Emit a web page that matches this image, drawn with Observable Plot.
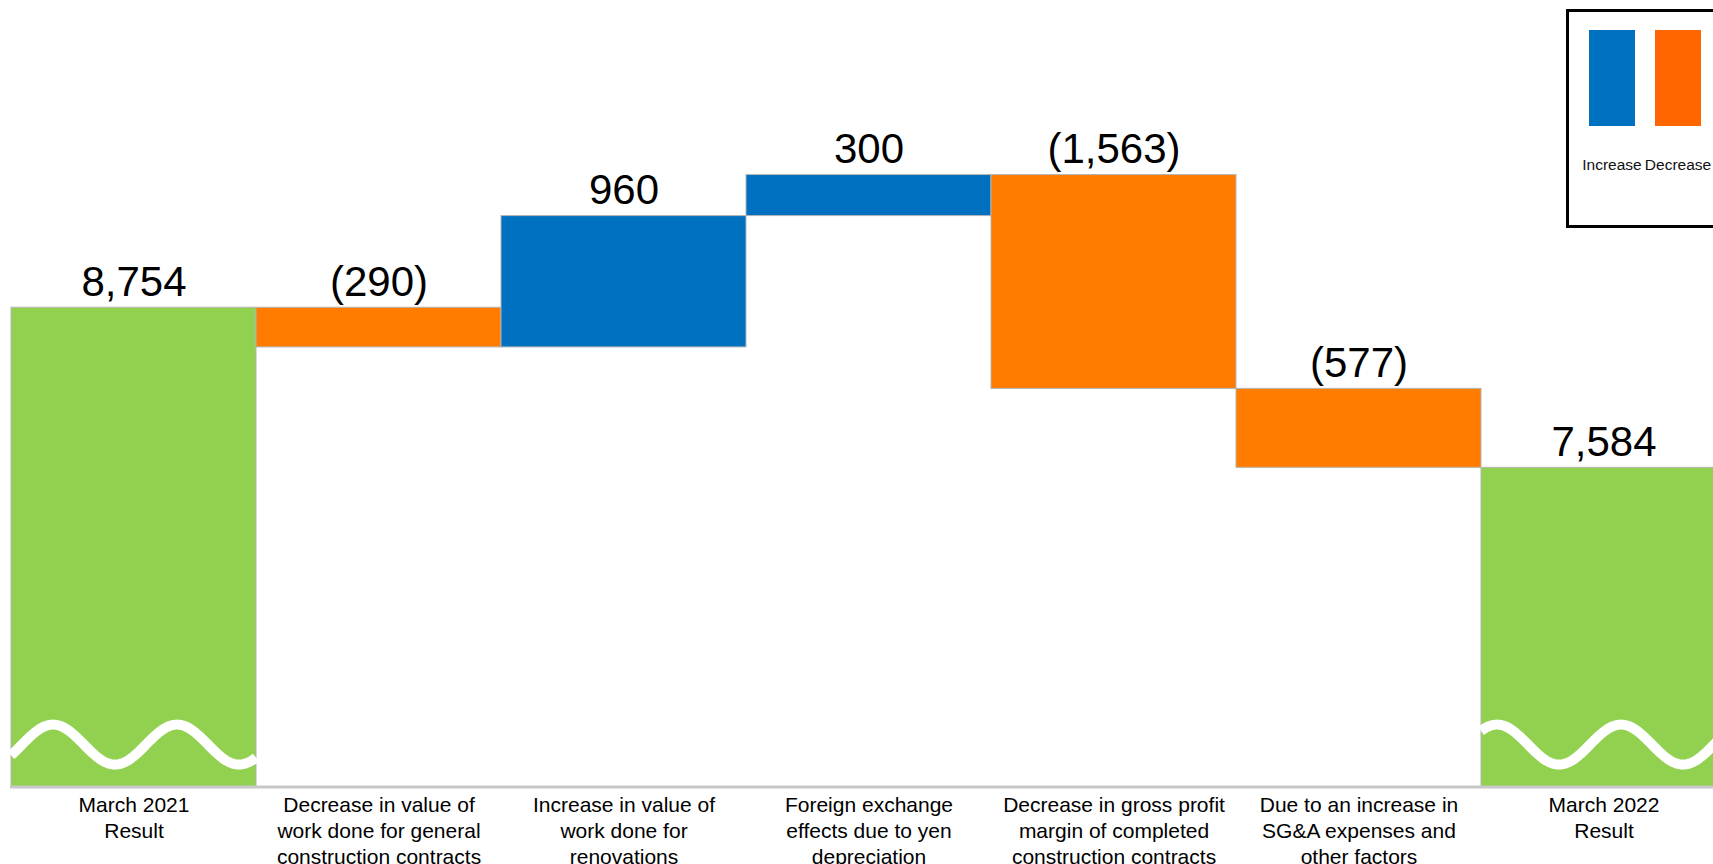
<!DOCTYPE html>
<html>
<head>
<meta charset="utf-8">
<script src="https://cdn.jsdelivr.net/npm/d3@7"></script>
<script src="https://cdn.jsdelivr.net/npm/@observablehq/plot@0.6"></script>
<style>
html,body{margin:0;padding:0;background:#fff;overflow:hidden;}
#wrap{position:relative;width:1713px;height:864px;overflow:hidden;font-family:"Liberation Sans",Arial,sans-serif;}
#legend{position:absolute;left:1566px;top:9px;width:170px;height:213px;border:3px solid #000;background:#fff;}
#legend .sw{position:absolute;top:18px;width:46px;height:96px;}
#legend .lb{position:absolute;top:145px;width:80px;text-align:center;font-size:15.5px;line-height:1;color:#111;white-space:nowrap;}
</style>
</head>
<body>
<div id="wrap"></div>
<script>
// ---- data ----
const categories = [
  "March 2021\nResult",
  "Decrease in value of\nwork done for general\nconstruction contracts",
  "Increase in value of\nwork done for\nrenovations",
  "Foreign exchange\neffects due to yen\ndepreciation",
  "Decrease in gross profit\nmargin of completed\nconstruction contracts",
  "Due to an increase in\nSG&A expenses and\nother factors",
  "March 2022\nResult"
];
const values = [8754, -290, 960, 300, -1563, -577, 7584];
const kinds = ["Result", "Decrease", "Increase", "Increase", "Decrease", "Decrease", "Result"];
const valueLabels = ["8,754", "(290)", "960", "300", "(1,563)", "(577)", "7,584"];
const legendLabels = ["Increase", "Decrease"];
const axisBreak = 5250;   // broken-axis bottom of the value scale
const axisTop = 11000;

// ---- waterfall table ----
let running = 0;
const rows = categories.map((cat, i) => {
  let y1, y2;
  if (kinds[i] === "Result") { y1 = axisBreak; y2 = values[i]; running = values[i]; }
  else { y1 = running; y2 = running + values[i]; running = y2; }
  return {cat, kind: kinds[i], y1, y2, top: Math.max(y1, y2), label: valueLabels[i]};
});

const wavePeak = [42, 16];
function waveMark(index, scales) {
  const {x, y} = scales;
  const bw = x.bandwidth ? x.bandwidth() : 245.4;
  const g = d3.create("svg:g");
  let k = 0;
  rows.forEach(d => {
    if (d.kind !== "Result") return;
    const x0 = x(d.cat);
    const base = y(axisBreak);
    const shift = wavePeak[k++] - 31;
    const pts = d3.range(0, bw + 0.5, 1).map(t => [x0 + t, base - 42 - 20 * Math.sin(2 * Math.PI * (t - shift) / 124)]);
    g.append("path").attr("d", d3.line()(pts)).attr("fill", "none")
      .attr("stroke", "#fff").attr("stroke-width", 10);
  });
  return g.node();
}

const chart = Plot.plot({
  width: 1713,
  height: 864,
  marginTop: 0,
  marginBottom: 77.4,
  marginLeft: 10,
  marginRight: 0,
  style: {fontFamily: '"Liberation Sans", Arial, sans-serif', background: "#fff", overflow: "hidden"},
  x: {domain: categories, range: [10, 1727.8], padding: 0, axis: null},
  y: {domain: [axisBreak, axisTop], axis: null},
  color: {domain: ["Result", "Increase", "Decrease"], range: ["#92D050", "#0070C0", "#FF7C00"]},
  marks: [
    Plot.barY(rows, {x: "cat", y1: "y1", y2: "y2", fill: "kind", stroke: "#b4b4b4", strokeWidth: 1}),
    waveMark,
    Plot.ruleY([axisBreak], {stroke: "#c8c8c8", strokeWidth: 3}),
    Plot.text(rows, {x: "cat", y: "top", text: "label", lineAnchor: "bottom", dy: -12, fontSize: 42, fill: "#000"}),
    Plot.text(rows, {x: "cat", y: axisBreak, text: "cat", lineAnchor: "top", dy: 7, fontSize: 21, lineHeight: 1.22, fill: "#000"})
  ]
});
const wrap = document.getElementById("wrap");
wrap.appendChild(chart);

// ---- legend ----
const legendColors = ["#0070C0", "#FF6600"];
const legend = document.createElement("div");
legend.id = "legend";
legendLabels.forEach((name, i) => {
  const sw = document.createElement("div");
  sw.className = "sw";
  sw.style.left = (20 + i * 66) + "px";
  sw.style.background = legendColors[i];
  legend.appendChild(sw);
  const lb = document.createElement("div");
  lb.className = "lb";
  lb.style.left = (3 + i * 66) + "px";
  lb.textContent = name;
  legend.appendChild(lb);
});
wrap.appendChild(legend);
</script>
</body>
</html>
